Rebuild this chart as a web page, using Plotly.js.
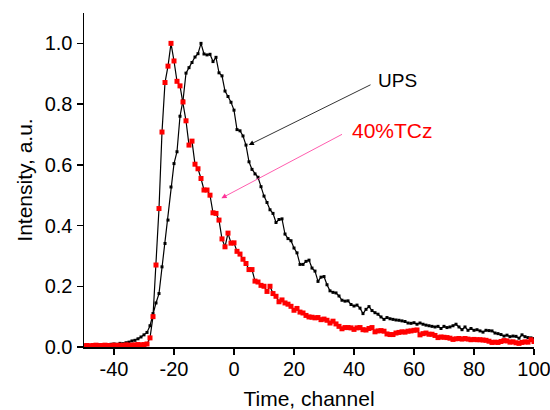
<!DOCTYPE html>
<html>
<head>
<meta charset="utf-8">
<script src="https://cdn.plot.ly/plotly-3.0.1.min.js"></script>
<style>html,body{margin:0;padding:0;background:#fff;}#chart{width:550px;height:410px;}</style>
</head>
<body>
<div id="chart"></div>
<script>
var channel = [-50,-49,-48,-47,-46,-45,-44,-43,-42,-41,-40,-39,-38,-37,-36,-35,-34,-33,-32,-31,-30,-29,-28,-27,-26,-25,-24,-23,-22,-21,-20,-19,-18,-17,-16,-15,-14,-13,-12,-11,-10,-9,-8,-7,-6,-5,-4,-3,-2,-1,0,1,2,3,4,5,6,7,8,9,10,11,12,13,14,15,16,17,18,19,20,21,22,23,24,25,26,27,28,29,30,31,32,33,34,35,36,37,38,39,40,41,42,43,44,45,46,47,48,49,50,51,52,53,54,55,56,57,58,59,60,61,62,63,64,65,66,67,68,69,70,71,72,73,74,75,76,77,78,79,80,81,82,83,84,85,86,87,88,89,90,91,92,93,94,95,96,97,98,99,100];

var ups = [0.004,0.005,0.004,0.006,0.005,0.007,0.006,0.008,0.007,0.009,0.010,0.009,0.012,0.011,0.014,0.016,0.020,0.022,0.027,0.033,0.040,0.048,0.070,0.110,0.145,0.176,0.264,0.341,0.418,0.527,0.604,0.643,0.760,0.812,0.902,0.920,0.937,0.955,0.966,1.000,0.965,0.962,0.964,0.940,0.954,0.903,0.893,0.843,0.825,0.806,0.780,0.716,0.712,0.695,0.665,0.610,0.585,0.570,0.559,0.528,0.497,0.476,0.452,0.440,0.410,0.420,0.422,0.372,0.357,0.350,0.326,0.310,0.272,0.272,0.282,0.286,0.260,0.250,0.216,0.230,0.232,0.205,0.185,0.180,0.178,0.168,0.154,0.151,0.152,0.140,0.135,0.138,0.128,0.110,0.124,0.133,0.120,0.113,0.108,0.099,0.091,0.097,0.093,0.091,0.089,0.088,0.086,0.084,0.079,0.078,0.080,0.075,0.079,0.075,0.072,0.070,0.068,0.066,0.068,0.061,0.068,0.064,0.066,0.070,0.075,0.066,0.057,0.066,0.055,0.061,0.055,0.057,0.053,0.049,0.055,0.054,0.053,0.046,0.044,0.041,0.036,0.039,0.034,0.036,0.035,0.029,0.040,0.034,0.031,0.030,0.028];

var tcz = [0.004,0.005,0.004,0.005,0.006,0.004,0.005,0.006,0.005,0.004,0.006,0.005,0.006,0.005,0.007,0.006,0.006,0.007,0.008,0.007,0.008,0.010,0.030,0.100,0.270,0.456,0.708,0.871,0.925,1.000,0.942,0.875,0.860,0.807,0.745,0.665,0.678,0.602,0.587,0.555,0.517,0.517,0.500,0.442,0.440,0.418,0.356,0.330,0.375,0.342,0.343,0.315,0.306,0.289,0.275,0.255,0.255,0.217,0.214,0.203,0.200,0.183,0.200,0.176,0.167,0.149,0.155,0.145,0.141,0.134,0.121,0.127,0.115,0.112,0.104,0.099,0.098,0.096,0.097,0.090,0.092,0.088,0.079,0.085,0.076,0.068,0.060,0.064,0.064,0.063,0.058,0.063,0.064,0.057,0.056,0.061,0.064,0.050,0.053,0.054,0.052,0.043,0.041,0.041,0.046,0.048,0.050,0.049,0.052,0.053,0.055,0.056,0.040,0.044,0.046,0.042,0.042,0.038,0.031,0.033,0.032,0.031,0.029,0.025,0.027,0.028,0.026,0.028,0.026,0.024,0.025,0.024,0.024,0.023,0.022,0.019,0.015,0.016,0.015,0.018,0.021,0.020,0.016,0.017,0.014,0.012,0.015,0.017,0.016,0.024,0.018];

var xTicks = [-40,-20,0,20,40,60,80,100];
var yTicks = [0.0,0.2,0.4,0.6,0.8,1.0];
var seriesNames = ['UPS','40%TCz'];

var font = 'Liberation Sans, Arial, sans-serif';

var traces = [
  {x: channel, y: ups, name: seriesNames[0], type: 'scatter', mode: 'lines+markers',
   line: {color: '#000000', width: 1.2},
   marker: {symbol: 'square', size: 3, color: '#000000'}},
  {x: channel, y: tcz, name: seriesNames[1], type: 'scatter', mode: 'lines+markers',
   line: {color: '#000000', width: 1.2},
   marker: {symbol: 'square', size: 5, color: '#ff0000'}}
];

var layout = {
  width: 550, height: 410,
  margin: {l: 84, r: 16, t: 13, b: 63},
  paper_bgcolor: '#ffffff', plot_bgcolor: '#ffffff',
  showlegend: false,
  font: {family: font, size: 20, color: '#000000'},
  xaxis: {
    range: [-50, 100], tickvals: xTicks, ticktext: xTicks.map(String),
    showgrid: false, zeroline: false, showline: true, linecolor: '#000', linewidth: 1.5,
    ticks: 'outside', ticklen: 6, tickwidth: 1.5, tickcolor: '#000',
    ticklabeloverflow: 'allow', ticklabelstandoff: -3,
    tickfont: {family: font, size: 20, color: '#000'},
    title: {text: 'Time, channel', font: {family: font, size: 21, color: '#000'}, standoff: 14}
  },
  yaxis: {
    range: [0, 1.1], tickvals: yTicks, ticktext: yTicks.map(function(v){return v.toFixed(1);}),
    showgrid: false, zeroline: false, showline: true, linecolor: '#000', linewidth: 1.5,
    ticks: 'outside', ticklen: 6, tickwidth: 1.5, tickcolor: '#000',
    tickfont: {family: font, size: 20, color: '#000'},
    title: {text: 'Intensity, a.u.', font: {family: font, size: 21, color: '#000'}, standoff: 6}
  },
  annotations: [
    {x: 4.9, y: 0.665, ax: 46, ay: 0.866, xref: 'x', yref: 'y', axref: 'x', ayref: 'y',
     text: '', showarrow: true, arrowhead: 2, arrowsize: 1.3, arrowwidth: 0.8, arrowcolor: '#000000'},
    {x: -4.2, y: 0.49, ax: 36.5, ay: 0.703, xref: 'x', yref: 'y', axref: 'x', ayref: 'y',
     text: '', showarrow: true, arrowhead: 2, arrowsize: 1.3, arrowwidth: 0.8, arrowcolor: '#ff3399'},
    {x: 54.5, y: 0.879, xref: 'x', yref: 'y', text: seriesNames[0], showarrow: false,
     font: {family: font, size: 19, color: '#000000'}},
    {x: 52.8, y: 0.714, xref: 'x', yref: 'y', text: seriesNames[1], showarrow: false,
     font: {family: font, size: 21, color: '#ff0000'}}
  ]
};

Plotly.newPlot('chart', traces, layout, {displayModeBar: false, staticPlot: true});
</script>
</body>
</html>
